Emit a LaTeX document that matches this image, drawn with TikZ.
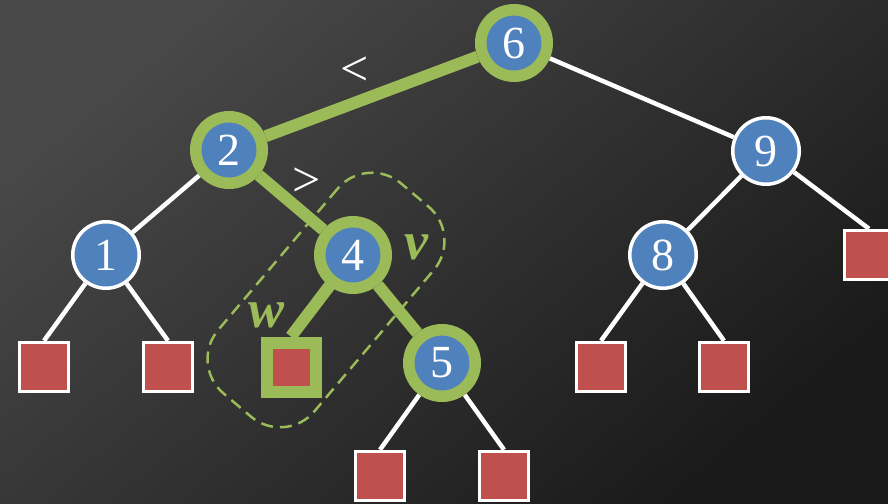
\documentclass[tikz,border=0pt]{standalone}
\usepackage{fontspec}
\setmainfont{Liberation Serif}
\usetikzlibrary{backgrounds}
\definecolor{nodeblue}{HTML}{4F81BD}
\definecolor{leafred}{HTML}{C0504D}
\definecolor{hlgreen}{HTML}{9BBB59}
\definecolor{bglight}{HTML}{484848}
\definecolor{bgdark}{HTML}{1A1A1A}
\tikzset{
  key/.style={circle, fill=nodeblue, draw=white, line width=3.5pt, minimum size=66.5pt,
    inner sep=0pt, text=white, font=\fontsize{46}{46}\selectfont},
  keyhl/.style={key, draw=hlgreen, line width=11.5pt},
  leaf/.style={rectangle, fill=leafred, draw=white, line width=3pt, minimum size=49.5pt, inner sep=0pt},
  leafhl/.style={leaf, draw=hlgreen, line width=12pt, minimum size=49pt},
  edge/.style={draw=white, line width=4.5pt},
  edgehl/.style={draw=hlgreen, line width=12pt},
  cmp/.style={text=white, inner sep=0pt, font=\fontsize{50}{50}\selectfont},
  tag/.style={text=hlgreen, inner sep=0pt, font=\fontsize{54}{54}\selectfont\bfseries\itshape},
}
\begin{document}
\begin{tikzpicture}[x=1pt, y=-1pt]
  \useasboundingbox (0,0) rectangle (888,503);
  \begin{pgfonlayer}{background}
    % dark backdrop
    \shade[top color=bglight, bottom color=bgdark, shading angle=40] (0,0) rectangle (888,503);
    % group outline around v and w
    \node[draw=hlgreen, line width=2.5pt, dash pattern=on 12pt off 7pt, rounded corners=45pt,
          minimum width=275pt, minimum height=126pt, inner sep=0pt, rotate=49.8] (grp) at (326,300) {};
  \end{pgfonlayer}

  % tree nodes
  \node[keyhl] (n6) at (514,43) {6};
  \node[keyhl] (n2) at (229,150) {2};
  \node[key]   (n9) at (766,151) {9};
  \node[key]   (n1) at (106,255) {1};
  \node[keyhl] (n4) at (353,255) {4};
  \node[key]   (n8) at (663,255) {8};
  \node[leaf]  (r9) at (869,255) {};
  \node[keyhl] (n5) at (442,363) {5};
  \node[leaf]  (a1) at (44,367) {};
  \node[leaf]  (b1) at (168,367) {};
  \node[leafhl] (w4) at (291,367) {};
  \node[leaf]  (a8) at (601,367) {};
  \node[leaf]  (b8) at (724,367) {};
  \node[leaf]  (a5) at (380,476) {};
  \node[leaf]  (b5) at (504,476) {};

  % edges, kept behind the nodes
  \begin{pgfonlayer}{background}
    \path[edge] (n6) -- (n9);
    \path[edge] (n2) -- (n1);
    \path[edge] (n1) -- (a1.north);
    \path[edge] (n1) -- (b1.north);
    \path[edge] (n9) -- (n8);
    \path[edge] (n9) -- (r9.north);
    \path[edge] (n8) -- (a8.north);
    \path[edge] (n8) -- (b8.north);
    \path[edge] (n5) -- (a5.north);
    \path[edge] (n5) -- (b5.north);
    \path[edgehl] (n6) -- (n2);
    \path[edgehl] (n2) -- (n4);
    \path[edgehl] (n4) -- (n5);
    \path[edgehl] (n4.center) -- (w4.north);
  \end{pgfonlayer}

  % labels
  \node[cmp] (lt) at (355,71) {<};
  \node[cmp] (gt) at (307,182) {>};
  \node[tag] (lv) at (416,247) {v};
  \node[tag] (lw) at (267,315) {w};
\end{tikzpicture}
\end{document}
